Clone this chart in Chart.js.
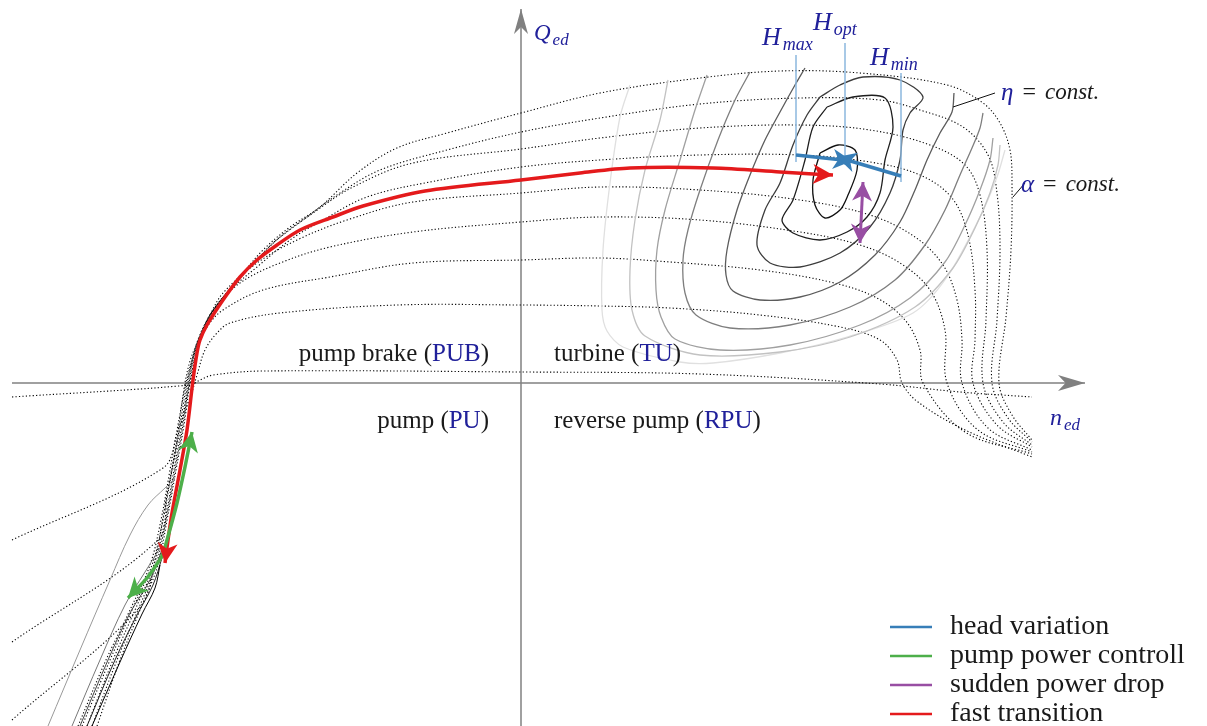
<!DOCTYPE html>
<html><head><meta charset="utf-8">
<script src="https://cdn.jsdelivr.net/npm/chart.js@4.4.1/dist/chart.umd.min.js"></script>
<style>html,body{margin:0;padding:0;background:#fff;}#wrap{width:1207px;height:726px;position:relative;}</style>
</head><body><div id="wrap"><canvas id="c"></canvas></div>
<script>
// ---- guide-vane opening curves (alpha = const), [n_ed, Q_ed] ----
const alpha1 = [[-4.24,-3.43],[-4.01,-2.77],[-3.81,-2.27],[-3.63,-1.82],[-3.54,-1.37],[-3.45,-0.87],[-3.37,-0.42],[-3.31,0],[-3.24,0.33],[-3.14,0.58],[-3.01,0.81],[-2.81,1.06],[-2.58,1.33],[-2.31,1.56],[-2.01,1.76],[-1.64,2.10],[-1.24,2.35],[-0.74,2.50],[0,2.70],[0.79,2.90],[1.79,3.05],[2.59,3.12],[3.39,3.10],[4.26,2.98],[4.62,2.80],[4.79,2.60],[4.89,2.33],[4.91,2.00],[4.90,1.33],[4.85,0.66],[4.78,0],[4.91,-0.32],[5.11,-0.57]];
const alpha2 = [[-4.29,-3.43],[-4.04,-2.77],[-3.83,-2.27],[-3.65,-1.82],[-3.55,-1.37],[-3.46,-0.87],[-3.38,-0.42],[-3.32,0],[-3.26,0.31],[-3.17,0.55],[-3.04,0.78],[-2.85,1.01],[-2.66,1.21],[-2.48,1.40],[-2.18,1.63],[-1.81,1.90],[-1.41,2.13],[-0.74,2.33],[0,2.51],[0.79,2.65],[1.79,2.79],[2.79,2.85],[3.59,2.83],[3.99,2.73],[4.42,2.56],[4.67,2.28],[4.76,1.90],[4.79,1.33],[4.76,0.63],[4.71,0],[4.87,-0.35],[5.11,-0.59]];
const alpha3 = [[-4.34,-3.43],[-4.08,-2.77],[-3.86,-2.27],[-3.67,-1.82],[-3.56,-1.37],[-3.47,-0.87],[-3.39,-0.42],[-3.33,0],[-3.27,0.28],[-3.18,0.53],[-3.06,0.75],[-2.89,0.96],[-2.66,1.21],[-2.41,1.46],[-2.08,1.70],[-1.68,1.96],[-1.08,2.20],[0,2.34],[0.79,2.45],[1.79,2.55],[2.79,2.58],[3.49,2.53],[4.09,2.38],[4.44,2.18],[4.59,1.88],[4.66,1.33],[4.65,0.63],[4.62,0],[4.82,-0.39],[5.11,-0.62]];
const alpha4 = [[-4.39,-3.43],[-4.11,-2.77],[-3.89,-2.27],[-3.69,-1.82],[-3.58,-1.37],[-3.49,-0.87],[-3.41,-0.42],[-3.34,0],[-3.28,0.26],[-3.20,0.50],[-3.09,0.71],[-2.93,0.91],[-2.64,1.16],[-2.31,1.43],[-1.98,1.63],[-1.54,1.86],[-0.91,2.01],[0,2.16],[0.79,2.23],[1.79,2.28],[2.79,2.28],[3.49,2.21],[3.99,2.08],[4.31,1.85],[4.47,1.48],[4.54,0.93],[4.54,0.43],[4.52,0],[4.76,-0.42],[5.11,-0.64]];
const alpha5 = [[-4.43,-3.43],[-4.15,-2.77],[-3.91,-2.27],[-3.71,-1.82],[-3.60,-1.37],[-3.51,-0.87],[-3.43,-0.42],[-3.35,0],[-3.29,0.23],[-3.22,0.46],[-3.11,0.68],[-2.98,0.90],[-2.64,1.20],[-2.24,1.43],[-1.74,1.63],[-1.08,1.81],[0,1.90],[0.79,1.96],[1.79,1.93],[2.79,1.83],[3.49,1.68],[3.94,1.46],[4.22,1.18],[4.36,0.83],[4.41,0.43],[4.41,0],[4.67,-0.45],[5.11,-0.67]];
const alpha6 = [[-5.09,-3.37],[-3.81,-2.24],[-3.66,-1.77],[-3.55,-1.17],[-3.45,-0.62],[-3.36,0],[-3.30,0.25],[-3.21,0.46],[-3.08,0.73],[-2.81,1.00],[-2.41,1.20],[-1.91,1.36],[-1.08,1.51],[0,1.61],[0.79,1.66],[1.79,1.63],[2.79,1.51],[3.39,1.38],[3.79,1.20],[4.09,0.93],[4.24,0.53],[4.26,0],[4.57,-0.47],[5.11,-0.69]];
const alpha7 = [[-5.09,-2.59],[-3.63,-1.57],[-3.54,-1.12],[-3.45,-0.67],[-3.37,-0.27],[-3.31,0],[-3.24,0.33],[-3.14,0.56],[-2.98,0.73],[-2.58,0.93],[-1.91,1.06],[-1.08,1.20],[0,1.23],[0.79,1.25],[1.49,1.21],[2.39,1.13],[3.09,1.01],[3.54,0.86],[3.84,0.63],[3.99,0.33],[4.02,0],[4.44,-0.49],[5.11,-0.71]];
const alpha8 = [[-5.09,-1.57],[-3.58,-0.85],[-3.43,-0.47],[-3.30,-0.12],[-3.24,0.08],[-3.16,0.33],[-3.04,0.50],[-2.91,0.60],[-2.41,0.70],[-1.24,0.78],[0,0.78],[0.79,0.77],[1.49,0.75],[2.39,0.68],[3.19,0.56],[3.59,0.43],[3.76,0.23],[3.81,0],[3.97,-0.19],[4.44,-0.47],[5.11,-0.74]];
const alpha9 = [[-5.09,-0.14],[-3.31,-0.02],[-3.21,0.03],[-3.08,0.08],[-2.58,0.12],[0,0.11],[1.79,0.09],[3.59,-0.01],[4.39,-0.09],[5.11,-0.14]];

// ---- efficiency contours (eta = const), outer (light) to inner (dark) ----
const eta1 = [[1.09,2.98],[0.99,2.66],[0.89,2.00],[0.82,1.33],[0.81,0.73],[0.86,0.52],[1.02,0.36],[1.59,0.21],[1.92,0.20],[2.59,0.30],[3.26,0.46],[3.92,0.70],[4.26,1.06],[4.59,1.66],[4.76,2.06],[4.84,2.33]];
const eta2 = [[1.47,3.03],[1.39,2.63],[1.24,2.13],[1.14,1.63],[1.09,1.13],[1.11,0.73],[1.24,0.47],[1.79,0.28],[2.59,0.31],[3.29,0.46],[3.94,0.76],[4.32,1.15],[4.54,1.55],[4.69,1.90],[4.77,2.18],[4.79,2.38]];
const eta3 = [[1.86,3.08],[1.74,2.73],[1.59,2.23],[1.44,1.73],[1.36,1.33],[1.35,0.93],[1.40,0.66],[1.54,0.44],[1.99,0.33],[2.69,0.38],[3.39,0.58],[3.89,0.85],[4.24,1.21],[4.44,1.58],[4.59,1.93],[4.69,2.23],[4.72,2.45]];
const eta4 = [[2.29,3.11],[2.14,2.83],[1.97,2.43],[1.79,1.93],[1.67,1.53],[1.62,1.23],[1.64,0.90],[1.75,0.68],[2.09,0.55],[2.69,0.58],[3.29,0.76],[3.74,1.03],[4.04,1.38],[4.24,1.73],[4.39,2.08],[4.51,2.35],[4.59,2.55],[4.62,2.70]];
const eta5 = [[2.84,3.15],[2.74,2.98],[2.59,2.71],[2.44,2.43],[2.29,2.08],[2.16,1.73],[2.06,1.33],[2.05,1.08],[2.12,0.92],[2.39,0.83],[2.79,0.86],[3.19,1.01],[3.54,1.28],[3.79,1.61],[3.94,1.93],[4.06,2.23],[4.19,2.50],[4.31,2.71],[4.33,2.90]];
const eta6 = [[2.99,2.86],[3.19,2.98],[3.42,3.06],[3.79,3.03],[4.02,2.86],[3.89,2.70],[3.82,2.53],[3.79,2.23],[3.69,1.90],[3.49,1.56],[3.19,1.30],[2.79,1.16],[2.49,1.20],[2.36,1.38],[2.44,1.73],[2.59,2.00],[2.72,2.38],[2.86,2.68],[2.99,2.86]];
const eta7 = [[3.06,2.76],[3.32,2.86],[3.64,2.85],[3.72,2.56],[3.64,2.23],[3.59,1.90],[3.46,1.66],[3.26,1.51],[2.99,1.43],[2.72,1.50],[2.61,1.63],[2.72,1.83],[2.84,2.23],[2.92,2.56],[3.06,2.76]];
const eta8 = [[2.99,2.30],[3.17,2.38],[3.34,2.33],[3.36,2.13],[3.27,1.88],[3.19,1.73],[3.04,1.65],[2.94,1.78],[2.92,2.03],[2.99,2.30]];
// eta lines in pump quadrant
const pump1 = [[-4.73,-3.43],[-4.41,-2.67],[-4.11,-1.97],[-3.91,-1.52],[-3.73,-1.22],[-3.56,-1.05],[-3.46,-0.95]];
const pump2 = [[-4.49,-3.43],[-4.21,-2.77],[-3.96,-2.22],[-3.76,-1.89],[-3.61,-1.65]];
const pump3 = [[-4.41,-3.43],[-4.13,-2.77],[-3.91,-2.30],[-3.71,-1.97],[-3.59,-1.67]];
const pump4 = [[-4.34,-3.43],[-4.06,-2.77],[-3.84,-2.32],[-3.68,-2.02],[-3.59,-1.75]];
const pump5 = [[-4.29,-3.43],[-4.01,-2.79],[-3.79,-2.31],[-3.66,-2.05],[-3.61,-1.82]];

// ---- operating trajectories ----
const headVariationLeft  = [[2.75,2.28],[3.31,2.22]];
const headVariationRight = [[3.80,2.07],[3.16,2.26]];
const pumpPowerControl = [[-3.29,-0.49],[-3.36,-0.84],[-3.44,-1.20],[-3.54,-1.57],[-3.59,-1.73],[-3.74,-1.95],[-3.93,-2.15]];
const suddenPowerDrop = [[3.42,2.01],[3.39,1.40]];
const fastTransition = [[-3.56,-1.80],[-3.53,-1.57],[-3.49,-1.30],[-3.41,-0.87],[-3.34,-0.47],[-3.28,0.03],[-3.24,0.30],[-3.21,0.43],[-3.14,0.58],[-2.98,0.83],[-2.81,1.06],[-2.64,1.23],[-2.44,1.38],[-2.21,1.53],[-1.88,1.66],[-1.58,1.77],[-0.96,1.92],[0,2.03],[0.59,2.10],[1.09,2.15],[1.92,2.15],[2.59,2.11],[2.92,2.09],[3.12,2.08]];
// head marks
const hMax = [[2.75,3.28],[2.75,2.21]];
const hOpt = [[3.24,3.40],[3.24,2.18]];
const hMin = [[3.80,3.10],[3.80,2.01]];
const etaPointer = [[4.32,2.76],[4.74,2.90]];
const alphaPointer = [[4.92,1.86],[5.04,2.00]];
// axes
const nAxis = [[-5.09,0],[5.64,0]];
const qAxis = [[0,-3.43],[0,3.74]];

const legendNames = ['head variation','pump power controll','sudden power drop','fast transition'];
const quadrantNames = [['pump brake (','PUB',')'],['turbine (','TU',')'],['pump (','PU',')'],['reverse pump (','RPU',')']];

const C = {blue:'#377eb8', green:'#4daf4a', purple:'#984ea3', red:'#e41a1c', navy:'#20209a', ink:'#1a1a1a'};
const SERIF = '"Liberation Serif", "DejaVu Serif", serif';

const xy = a => a.map(p => ({x:p[0], y:p[1]}));
function line(data, color, width, extra){ return Object.assign({data:xy(data), borderColor:color, borderWidth:width, pointRadius:0, fill:false, tension:0.35}, extra||{}); }
const dotted = {borderDash:[1.2,2.2], tension:0.35};
const dotCol = '#000';

const datasets = [
  line(headVariationLeft, C.blue, 3.5, {label:legendNames[0], tension:0, heads:['end'], headLen:19, headW:10}),
  line(headVariationRight, C.blue, 3.5, {tension:0, heads:['end'], headLen:19, headW:10}),
  line(suddenPowerDrop, C.purple, 3, {label:legendNames[2], tension:0, heads:['start','end'], headLen:19, headW:10}),
  line(pumpPowerControl, C.green, 3.5, {label:legendNames[1], tension:0.2, heads:['start','end'], headLen:20, headW:10}),
  line(fastTransition, C.red, 3.5, {label:legendNames[3], tension:0.3, heads:['start','end'], headLen:20, headW:10}),
  line(hMax, '#8cb8de', 1.5, {tension:0}),
  line(hOpt, '#8cb8de', 1.5, {tension:0}),
  line(hMin, '#8cb8de', 1.5, {tension:0}),
  line(etaPointer, '#111', 1, {tension:0}),
  line(alphaPointer, '#111', 1, {tension:0}),
  line(eta8, '#111', 1.3, {tension:0.3}), line(eta7, '#1e1e1e', 1.3, {tension:0.3}), line(eta6, '#3c3c3c', 1.3, {tension:0.3}),
  line(eta5, '#5c5c5c', 1.3, {tension:0.3}), line(eta4, '#7e7e7e', 1.3, {tension:0.3}), line(eta3, '#a0a0a0', 1.3, {tension:0.3}),
  line(eta2, '#c2c2c2', 1.3, {tension:0.3}), line(eta1, '#e0e0e0', 1.3, {tension:0.3}),
  line(pump5, '#000', 1), line(pump4, '#222', 1), line(pump3, '#444', 1), line(pump2, '#777', 1), line(pump1, '#999', 1),
  line(alpha1, dotCol, 1.1, dotted), line(alpha2, dotCol, 1.1, dotted), line(alpha3, dotCol, 1.1, dotted),
  line(alpha4, dotCol, 1.1, dotted), line(alpha5, dotCol, 1.1, dotted), line(alpha6, dotCol, 1.1, dotted),
  line(alpha7, dotCol, 1.1, dotted), line(alpha8, dotCol, 1.1, dotted), line(alpha9, dotCol, 1.1, dotted),
  line(nAxis, '#808080', 1.5, {tension:0, heads:['end'], headLen:27, headW:8}),
  line(qAxis, '#808080', 1.5, {tension:0, heads:['end'], headLen:25, headW:7})
];

function drawHead(ctx, tx, ty, fx, fy, len, w, color){
  const a = Math.atan2(ty-fy, tx-fx);
  ctx.save(); ctx.translate(tx, ty); ctx.rotate(a);
  ctx.beginPath(); ctx.moveTo(0,0); ctx.lineTo(-len,-w); ctx.lineTo(-len*0.72,0); ctx.lineTo(-len,w); ctx.closePath();
  ctx.fillStyle = color; ctx.fill(); ctx.restore();
}
const arrowPlugin = {
  id:'arrows',
  afterDatasetsDraw(chart){
    const ctx = chart.ctx;
    chart.data.datasets.forEach((ds,i)=>{
      if(!ds.heads) return;
      const pts = chart.getDatasetMeta(i).data, n = pts.length;
      ds.heads.forEach(h=>{
        const tip = h==='end'?pts[n-1]:pts[0], prev = h==='end'?pts[n-2]:pts[1];
        drawHead(ctx, tip.x, tip.y, prev.x, prev.y, ds.headLen, ds.headW, ds.borderColor);
      });
    });
  }
};
function rich(ctx, parts, x, y, align){
  let w = 0; parts.forEach(p=>{ctx.font=p.f; w+=ctx.measureText(p.t).width+(p.dx||0);});
  let cx = align==='right'? x-w : x;
  parts.forEach(p=>{ctx.font=p.f; ctx.fillStyle=p.c; ctx.fillText(p.t, cx+(p.dx||0), y+(p.dy||0)); cx+=ctx.measureText(p.t).width+(p.dx||0);});
}
const textPlugin = {
  id:'texts',
  afterDraw(chart){
    const ctx = chart.ctx, X = v=>chart.scales.x.getPixelForValue(v), Y = v=>chart.scales.y.getPixelForValue(v);
    ctx.save();
    const up = '25px '+SERIF, it = s=>'italic '+s+'px '+SERIF;
    ctx.textBaseline = 'middle';
    const q = quadrantNames;
    const mk = a => [{t:a[0],c:C.ink,f:up},{t:a[1],c:C.navy,f:up},{t:a[2],c:C.ink,f:up}];
    rich(ctx, mk(q[0]), X(-0.32), Y(0.29), 'right');
    rich(ctx, mk(q[1]), X(0.33), Y(0.29), 'left');
    rich(ctx, mk(q[2]), X(-0.32), Y(-0.38), 'right');
    rich(ctx, mk(q[3]), X(0.33), Y(-0.38), 'left');
    ctx.textBaseline = 'alphabetic';
    const sub = (m, s, x, y, a, b)=> rich(ctx, [{t:m,c:C.navy,f:it(a)},{t:s,c:C.navy,f:it(b),dy:5,dx:2}], x, y, 'left');
    sub('Q','ed', X(0.13), Y(3.43), 23, 17);
    sub('n','ed', X(5.29), Y(-0.42), 24, 17);
    sub('H','max', X(2.41), Y(3.38), 26, 18);
    sub('H','opt', X(2.92), Y(3.53), 26, 18);
    sub('H','min', X(3.49), Y(3.18), 26, 18);
    ctx.textBaseline = 'middle';
    const eq = g => [{t:g,c:C.navy,f:it(25)},{t:'=',c:C.ink,f:'24px '+SERIF,dx:9},{t:'const.',c:C.ink,f:it(23),dx:9}];
    rich(ctx, eq('η'), X(4.80), Y(2.90), 'left');
    rich(ctx, eq('α'), X(5.00), Y(1.98), 'left');
    // legend
    const lg = [[legendNames[0],C.blue],[legendNames[1],C.green],[legendNames[2],C.purple],[legendNames[3],C.red]];
    lg.forEach((e,i)=>{
      const yy = Y(-2.44 - i*0.29);
      ctx.strokeStyle = e[1]; ctx.lineWidth = 2.5; ctx.beginPath(); ctx.moveTo(X(3.69), yy); ctx.lineTo(X(4.11), yy); ctx.stroke();
      ctx.font = '28px '+SERIF; ctx.fillStyle = C.ink; ctx.fillText(e[0], X(4.29), yy);
    });
    ctx.restore();
  }
};

new Chart(document.getElementById('c'), {
  type:'line',
  data:{datasets},
  options:{
    responsive:true, maintainAspectRatio:false, animation:false, devicePixelRatio:1,
    layout:{padding:0},
    plugins:{legend:{display:false}, tooltip:{enabled:false}},
    scales:{
      x:{type:'linear', min:-5.21, max:6.86, display:false},
      y:{type:'linear', min:-3.43, max:3.83, display:false}
    }
  },
  plugins:[arrowPlugin, textPlugin]
});
</script></body></html>
